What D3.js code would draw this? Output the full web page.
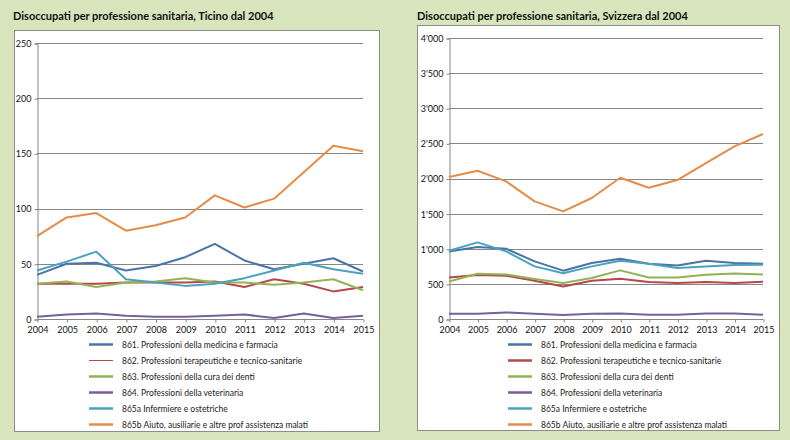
<!DOCTYPE html>
<html><head><meta charset="utf-8">
<script src="https://cdn.jsdelivr.net/npm/d3@7"></script>
<style>
html,body{margin:0;padding:0;background:#d8e4bc;}
svg{display:block;font-family:Lato,"Open Sans",sans-serif;}
</style></head>
<body><svg id="c" width="790" height="440"></svg>
<script>
const years = [2004,2005,2006,2007,2008,2009,2010,2011,2012,2013,2014,2015];
const seriesNames = [
  "861. Professioni della medicina e farmacia",
  "862. Professioni terapeutiche e tecnico-sanitarie",
  "863. Professioni della cura dei denti",
  "864. Professioni della veterinaria",
  "865a Infermiere e ostetriche",
  "865b Aiuto, ausiliarie e altre prof assistenza malati"
];
const seriesColors = ["#4a74a8","#b5484a","#93b256","#76609a","#4aa3bd","#e58c48"];

// Ticino
const ti861 = [40,50,51,44,48,56,68,53,45,50,55,43];
const ti862 = [32,32,32,33,33,33,34,29,36,32,25,29];
const ti863 = [32,34,29,33,34,37,33,33,31,33,36,26];
const ti864 = [2,4,5,3,2,2,3,4,1,5,1,3];
const ti865a = [44,52,61,36,33,30,32,37,44,51,45,41];
const ti865b = [75,92,96,80,85,92,112,101,109,133,157,152];
const tiTicks = [0,50,100,150,200,250];

// Svizzera
const ch861 = [962,1025,1000,820,688,797,858,787,763,830,797,787];
const ch862 = [592,626,616,545,464,545,574,527,512,527,512,531];
const ch863 = [535,645,635,569,512,584,692,592,592,631,649,635];
const ch864 = [75,75,94,75,57,75,80,61,61,80,80,61];
const ch865a = [972,1091,962,749,650,749,830,787,726,749,768,773];
const ch865b = [2021,2111,1959,1674,1532,1722,2011,1869,1978,2220,2457,2633];
const chTicks = [0,500,1000,1500,2000,2500,3000,3500,4000];

const svg = d3.select("#c");

function fmtApos(v){
  const s = String(v);
  return s.length > 3 ? s.slice(0, s.length-3) + "'" + s.slice(-3) : s;
}

function drawPanel(o){
  const g = svg.append("g");
  // title
  g.append("text").attr("x", o.titleX).attr("y", 19.5)
    .attr("font-size", "11px").attr("font-weight", "bold").attr("fill", "#111")
    .text(o.title);
  // box
  g.append("rect").attr("x", o.box[0]+0.5).attr("y", o.box[1]+0.5)
    .attr("width", o.box[2]).attr("height", o.box[3])
    .attr("fill", "#fff").attr("stroke", "#8c8c8c");

  const x = d3.scalePoint().domain(years).range([o.x0, o.x1]);
  const y = d3.scaleLinear().domain([0, d3.max(o.ticks)]).range([319, o.yTop]);

  // gridlines
  g.append("g").selectAll("line").data(o.ticks.filter(t => t > 0)).join("line")
    .attr("x1", o.x0).attr("x2", o.x1)
    .attr("y1", d => Math.round(y(d)) + 0.5).attr("y2", d => Math.round(y(d)) + 0.5)
    .attr("stroke", "#868686").attr("stroke-width", 1);

  // y axis
  const ya = g.append("g").attr("transform", `translate(${o.x0 + 0.5},0.5)`)
    .call(d3.axisLeft(y).tickValues(o.ticks).tickSize(3).tickPadding(3).tickFormat(o.fmt));
  ya.select(".domain").attr("stroke", "#868686");
  ya.selectAll(".tick line").attr("stroke", "#868686");
  ya.selectAll(".tick text").attr("font-size", "9px").attr("fill", "#111")
    .attr("font-family", "Lato,sans-serif");

  // x axis
  const xa = g.append("g").attr("transform", `translate(0.5,${Math.round(y(0)) + 0.5})`)
    .call(d3.axisBottom(x).tickSize(3).tickPadding(4));
  xa.select(".domain").attr("stroke", "#868686").attr("d", `M${o.x0},0H${o.x1}`);
  xa.selectAll(".tick line").attr("stroke", "#868686");
  xa.selectAll(".tick text").attr("font-size", "9px").attr("fill", "#111")
    .attr("font-family", "Lato,sans-serif");

  const line = d3.line().x((d, i) => x(years[i])).y(d => y(d));
  o.series.forEach((s, k) => {
    g.append("path").datum(s).attr("d", line).attr("fill", "none")
      .attr("stroke", seriesColors[k]).attr("stroke-width", 2)
      .attr("stroke-linejoin", "round");
  });

  // legend
  const lg = g.append("g");
  seriesNames.forEach((n, k) => {
    const yy = 344.5 + k * 16;
    lg.append("line").attr("x1", o.legX).attr("x2", o.legX + 24)
      .attr("y1", yy).attr("y2", yy)
      .attr("stroke", seriesColors[k])
      .attr("stroke-width", (o.thinLeg && k === 1) ? 1 : 2.5);
    lg.append("text").attr("x", o.legX + 33).attr("y", yy + 3)
      .attr("font-size", "8.5px").attr("fill", "#222").text(n);
  });
}

drawPanel({
  title: "Disoccupati per professione sanitaria, Ticino dal 2004",
  titleX: 13, box: [14, 30, 365, 401],
  x0: 37, x1: 363, yTop: 43, ticks: tiTicks, fmt: d3.format("d"),
  series: [ti861, ti862, ti863, ti864, ti865a, ti865b],
  legX: 89, thinLeg: true
});
drawPanel({
  title: "Disoccupati per professione sanitaria, Svizzera dal 2004",
  titleX: 417, box: [417, 25, 362, 405],
  x0: 449, x1: 763, yTop: 38, ticks: chTicks, fmt: fmtApos,
  series: [ch861, ch862, ch863, ch864, ch865a, ch865b],
  legX: 508, thinLeg: false
});
</script>
</body></html>
